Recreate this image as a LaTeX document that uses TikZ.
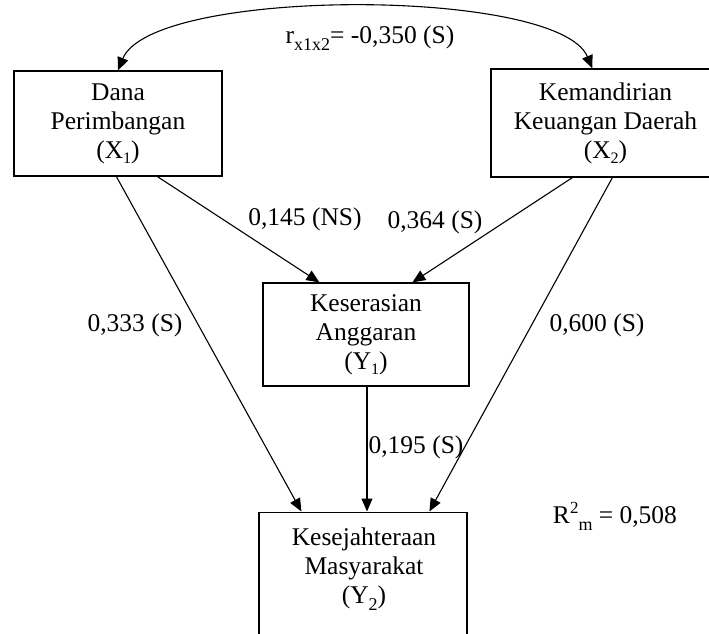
\documentclass[tikz,border=0pt]{standalone}
\usepackage{fontspec}
\setmainfont{Liberation Serif}
\usetikzlibrary{arrows.meta}
\newcommand{\sbs}[1]{\raisebox{-0.22em}{\fontsize{16}{16}\selectfont #1}}
\newcommand{\sbl}[1]{\raisebox{-0.25em}{\fontsize{18}{18}\selectfont #1}}
\newcommand{\sps}[1]{\raisebox{0.42em}{\fontsize{17}{17}\selectfont #1}}
\tikzset{
  mainfont/.style={font=\fontsize{25.5}{29}\selectfont},
  box/.style={draw, line width=1.2pt, align=center, inner sep=0pt, mainfont},
  txt/.style={align=center, inner sep=0pt, mainfont},
  conn/.style={line width=1.1pt, -{Triangle[length=13pt,width=11pt]}},
  biconn/.style={line width=1.1pt, {Triangle[length=13pt,width=11pt]}-{Triangle[length=13pt,width=11pt]}},
}
\begin{document}
\begin{tikzpicture}[x=1pt,y=-1pt]
\clip (0,0) rectangle (709,634);
\fill[white] (0,0) rectangle (709,634);
% boxes
\node[box, minimum width=208, minimum height=105] (x1) at (118,123.5) {Dana\\Perimbangan\\(X\sbs{1})};
\node[box, minimum width=229, minimum height=108] (x2) at (605.5,123) {Kemandirian\\Keuangan Daerah\\(X\sbs{2})};
\node[box, minimum width=206, minimum height=103] (y1) at (366,334.5) {Keserasian\\Anggaran\\(Y\sbs{1})};
\node[box, minimum width=208, minimum height=170, anchor=north] (y2) at (363,511.5) {};
\node[txt] (y2t) at (364,569) {Kesejahteraan\\Masyarakat\\(Y\sbl{2})};
% connectors
\draw[biconn] (x1.north) .. controls (152,-13) and (558,-13) .. ([xshift=102pt]x2.north west);
\draw[conn] ([xshift=103pt]x1.south west) -- ([xshift=43pt]y2.north west);
\draw[conn] ([xshift=144pt]x1.south west) -- ([xshift=57pt]y1.north west);
\draw[conn] ([xshift=82pt]x2.south west) -- ([xshift=150pt]y1.north west);
\draw[conn] ([xshift=122pt]x2.south west) -- ([xshift=171pt]y2.north west);
\draw[conn] ([xshift=1pt]y1.south) -- ([xshift=1pt]y1.south |- y2.north);
% labels
\node[txt] (lr) at (370,38) {r\sbl{x1x2}= -0,350 (S)};
\node[txt] (l145) at (305,219) {0,145 (NS)};
\node[txt] (l364) at (435,222) {0,364 (S)};
\node[txt] (l333) at (135,325) {0,333 (S)};
\node[txt] (l600) at (597,325) {0,600 (S)};
\node[txt] (l195) at (416,447) {0,195 (S)};
\node[txt] (lr2) at (615,516) {R\sps{2}\sbl{m} = 0,508};
\end{tikzpicture}
\end{document}
